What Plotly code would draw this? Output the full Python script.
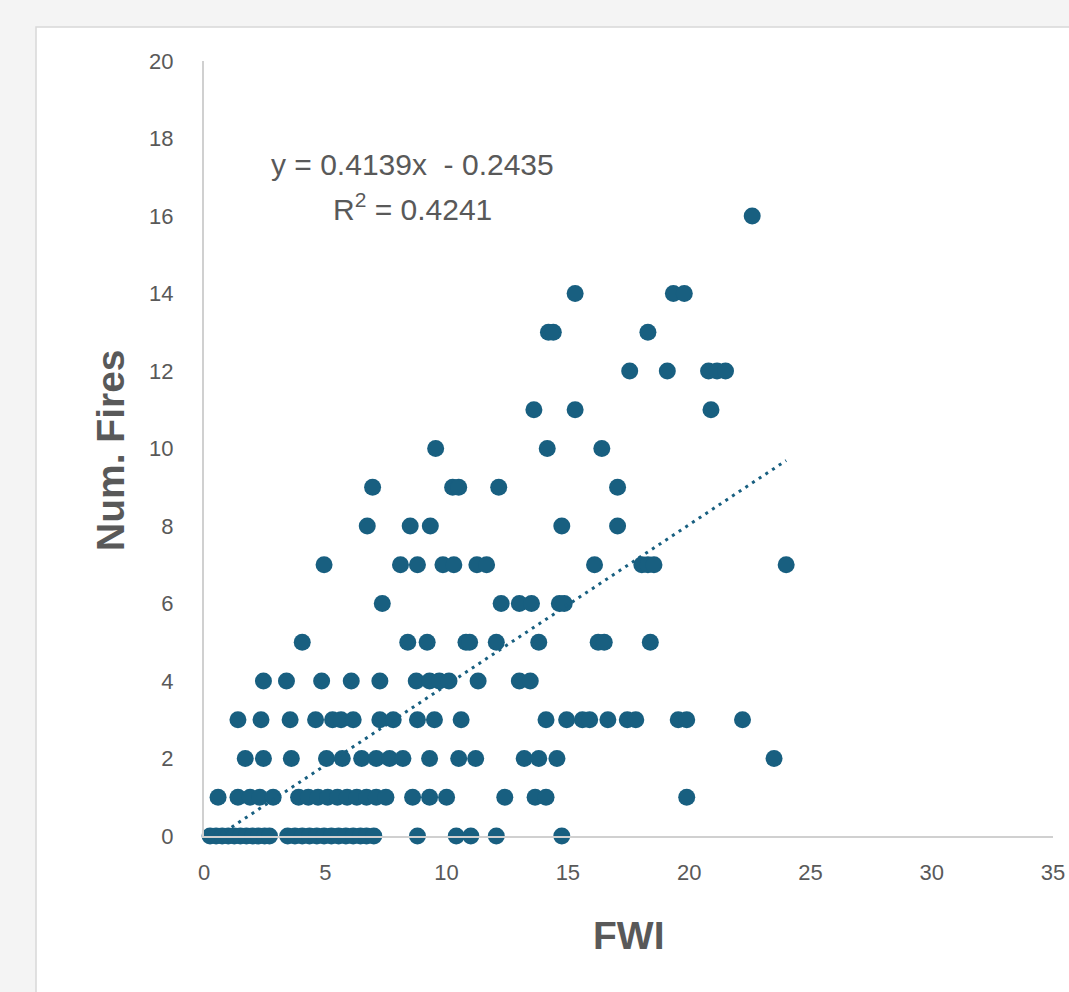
import plotly.graph_objects as go

# ---- data: FWI values for each observed number of fires ----
fwi_fires_0 = [0.25, 0.5, 0.75, 1.0, 1.25, 1.5, 1.75, 2.0, 2.25, 2.5, 2.7,
               3.45, 3.75, 4.05, 4.35, 4.65, 4.95, 5.25, 5.55, 5.85, 6.15, 6.45, 6.7, 7.0,
               8.8, 10.4, 11.0, 12.05, 14.75]
fwi_fires_1 = [0.58, 1.4, 1.9, 2.3, 2.85, 3.9, 4.3, 4.7, 5.1, 5.5, 5.9, 6.3, 6.7, 7.1, 7.5,
               8.6, 9.3, 10.0, 12.4, 13.65, 14.1, 19.9]
fwi_fires_2 = [1.7, 2.45, 3.6, 5.05, 5.7, 6.5, 7.1, 7.65, 8.2, 9.3, 10.5, 11.2,
               13.2, 13.8, 14.55, 23.5]
fwi_fires_3 = [1.4, 2.35, 3.55, 4.6, 5.3, 5.65, 6.15, 7.25, 7.8, 8.8, 9.5, 10.6, 14.1,
               14.95, 15.6, 15.9, 16.65, 17.45, 17.8, 19.55, 19.9, 22.2]
fwi_fires_4 = [2.45, 3.4, 4.85, 6.07, 7.25, 8.75, 9.3, 9.7, 10.1, 11.3, 13.0, 13.45]
fwi_fires_5 = [4.05, 8.4, 9.2, 10.8, 10.95, 12.05, 13.8, 16.25, 16.5, 18.4]
fwi_fires_6 = [7.35, 12.25, 13.0, 13.5, 14.65, 14.85]
fwi_fires_7 = [4.95, 8.1, 8.8, 9.85, 10.3, 11.25, 11.65, 16.1, 18.05, 18.3, 18.55, 24.0]
fwi_fires_8 = [6.73, 8.5, 9.33, 14.75, 17.05]
fwi_fires_9 = [6.95, 10.25, 10.5, 12.15, 17.05]
fwi_fires_10 = [9.55, 14.15, 16.4]
fwi_fires_11 = [13.6, 15.3, 20.9]
fwi_fires_12 = [17.55, 19.1, 20.8, 21.15, 21.5]
fwi_fires_13 = [14.2, 14.4, 18.3]
fwi_fires_14 = [15.3, 19.35, 19.8]
fwi_fires_16 = [22.6]

fire_counts = [0, 1, 2, 3, 4, 5, 6, 7, 8, 9, 10, 11, 12, 13, 14, 16]
fwi_rows = [fwi_fires_0, fwi_fires_1, fwi_fires_2, fwi_fires_3, fwi_fires_4, fwi_fires_5,
            fwi_fires_6, fwi_fires_7, fwi_fires_8, fwi_fires_9, fwi_fires_10, fwi_fires_11,
            fwi_fires_12, fwi_fires_13, fwi_fires_14, fwi_fires_16]

trend_slope = 0.4139
trend_intercept = -0.2435
r_squared = 0.4241

x_ticks = [0, 5, 10, 15, 20, 25, 30, 35]
y_ticks = [0, 2, 4, 6, 8, 10, 12, 14, 16, 18, 20]

# ---- build ----
fwi = []
fires = []
for count, row in zip(fire_counts, fwi_rows):
    fwi.extend(row)
    fires.extend([count] * len(row))

x_start = max(min(fwi), -trend_intercept / trend_slope)
x_end = max(fwi)
trend_x = [x_start, x_end]
trend_y = [trend_slope * v + trend_intercept for v in trend_x]

COLOR = "#185f80"
GRAY = "#595959"
PAGE_BG = "#f4f4f4"
FONT = "Liberation Sans, Arial, sans-serif"

fig = go.Figure()
fig.add_trace(go.Scatter(
    x=fwi, y=fires, mode="markers",
    marker=dict(size=17, color=COLOR, line=dict(width=0)),
    cliponaxis=False, showlegend=False, hoverinfo="skip"))
fig.add_trace(go.Scatter(
    x=trend_x, y=trend_y, mode="lines",
    line=dict(color=COLOR, width=3, dash="3px,5px"),
    cliponaxis=False, showlegend=False, hoverinfo="skip"))

W, H = 1069, 992
L, R, T, B = 204, 16, 61, 156
pw, ph = W - L - R, H - T - B

def px_x(p):
    return (p - L) / pw

def px_y(p):
    return (H - B - p) / ph

fig.update_layout(
    width=W, height=H,
    margin=dict(l=L, r=R, t=T, b=B, autoexpand=False),
    paper_bgcolor=PAGE_BG,
    plot_bgcolor="white",
    font=dict(family=FONT, color=GRAY),
    xaxis=dict(range=[0, 35], tickvals=x_ticks, showgrid=False, zeroline=False,
               showline=True, linecolor="#d0d0d0", linewidth=2, ticks="",
               tickfont=dict(size=22, color=GRAY), ticklabelstandoff=16,
               automargin=False),
    yaxis=dict(range=[0, 20], tickvals=y_ticks, showgrid=False, zeroline=False,
               showline=True, linecolor="#d0d0d0", linewidth=2, ticks="",
               tickfont=dict(size=22, color=GRAY), ticklabelstandoff=24,
               automargin=False),
    shapes=[dict(type="rect", xref="paper", yref="paper",
                 x0=px_x(36), x1=px_x(1200), y0=px_y(1200), y1=px_y(27),
                 fillcolor="white", line=dict(color="#d8d8d8", width=1.5),
                 layer="below")],
    annotations=[
        dict(text="<b>Num. Fires</b>", xref="paper", yref="paper",
             x=px_x(110), y=px_y(450), textangle=-90, showarrow=False,
             xanchor="center", yanchor="middle",
             font=dict(size=39, color=GRAY, family=FONT)),
        dict(text="<b>FWI</b>", xref="paper", yref="paper",
             x=px_x(628), y=px_y(935), showarrow=False,
             xanchor="center", yanchor="middle",
             font=dict(size=39, color=GRAY, family=FONT)),
        dict(text=f"y = {trend_slope}x  - {abs(trend_intercept)}", xref="paper", yref="paper",
             x=px_x(412), y=px_y(165), showarrow=False,
             xanchor="center", yanchor="middle",
             font=dict(size=30, color=GRAY, family=FONT)),
        dict(text=f"R<sup>2</sup> = {r_squared}", xref="paper", yref="paper",
             x=px_x(412), y=px_y(207), showarrow=False,
             xanchor="center", yanchor="middle",
             font=dict(size=30, color=GRAY, family=FONT)),
    ],
)

fig.write_html(
    "out.html",
    config={"displayModeBar": False},
    post_script=(f"document.body.style.margin='0';"
                 f"document.body.style.background='{PAGE_BG}';"
                 "document.documentElement.style.overflow='hidden';"),
)
